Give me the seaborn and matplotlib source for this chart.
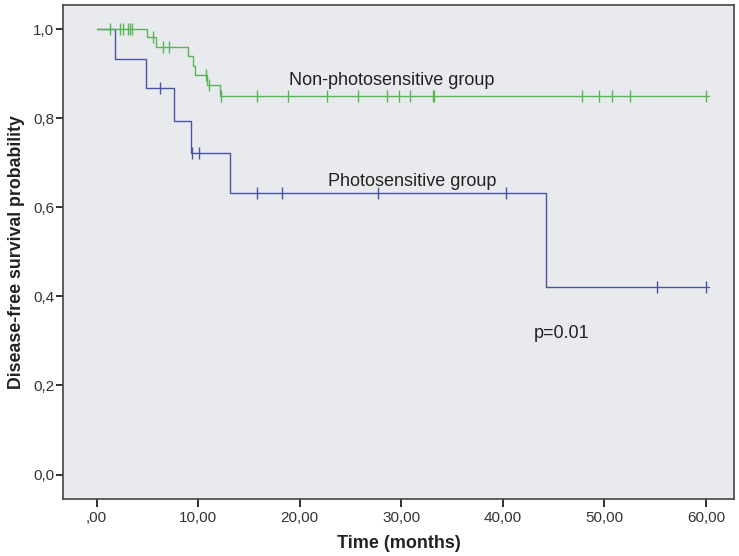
import numpy as np
import pandas as pd
import matplotlib
matplotlib.use("Agg")
import matplotlib.pyplot as plt
import seaborn as sns

# --- Kaplan-Meier steps ---
photo_times = [0, 1.8, 4.85, 7.65, 9.3, 13.1, 44.2, 60.3]
photo_surv = [1.0, 0.933, 0.867, 0.794, 0.722, 0.632, 0.422, 0.422]
photo_censor = [6.2, 9.35, 10.1, 15.8, 18.2, 27.7, 40.3, 55.2, 60.0]

nonphoto_times = [0, 4.96, 5.81, 9.0, 9.49, 9.72, 10.9, 12.1, 60.3]
nonphoto_surv = [1.0, 0.983, 0.96, 0.94, 0.918, 0.897, 0.875, 0.851, 0.851]
nonphoto_censor = [1.35, 2.3, 2.6, 3.1, 3.25, 3.5, 5.55, 6.5, 7.1, 10.8, 11.1,
                   12.2, 15.8, 18.8, 22.7, 25.7, 28.6, 29.8, 30.9, 33.1, 33.2,
                   47.8, 49.5, 50.7, 52.5, 60.0]

groups = ["Photosensitive group", "Non-photosensitive group"]
colors = {"Photosensitive group": "#4a55a2", "Non-photosensitive group": "#5ab45a"}

x_ticks = [0, 10, 20, 30, 40, 50, 60]
y_ticks = [0.0, 0.2, 0.4, 0.6, 0.8, 1.0]


def surv_at(times, surv, t):
    i = np.searchsorted(times, t, side="right") - 1
    return surv[i]


steps = pd.concat([
    pd.DataFrame({"time": photo_times, "surv": photo_surv, "group": groups[0]}),
    pd.DataFrame({"time": nonphoto_times, "surv": nonphoto_surv, "group": groups[1]}),
])
cens = pd.concat([
    pd.DataFrame({"time": photo_censor,
                  "surv": [surv_at(photo_times, photo_surv, t) for t in photo_censor],
                  "group": groups[0]}),
    pd.DataFrame({"time": nonphoto_censor,
                  "surv": [surv_at(nonphoto_times, nonphoto_surv, t) for t in nonphoto_censor],
                  "group": groups[1]}),
])

sns.set_style("white")
plt.rcParams["font.family"] = ["Liberation Sans", "DejaVu Sans"]

fig = plt.figure(figsize=(7.39, 5.56), dpi=100)
ax = fig.add_axes([0.0848, 0.1025, 0.909, 0.889])
ax.set_facecolor("#e9eaed")

for g in groups:
    d = steps[steps["group"] == g]
    sns.lineplot(data=d, x="time", y="surv", ax=ax, color=colors[g],
                 estimator=None, sort=False, drawstyle="steps-post",
                 linewidth=1.0, legend=False)
    c = cens[cens["group"] == g]
    sns.scatterplot(data=c, x="time", y="surv", ax=ax, color=colors[g],
                    marker="|", s=70, linewidth=1.0, legend=False)

ax.set_xlim(-3.35, 62.8)
ax.set_ylim(-0.055, 1.055)
ax.set_xticks(x_ticks)
ax.set_xticklabels([",00" if v == 0 else f"{v},00" for v in x_ticks])
ax.set_yticks(y_ticks)
ax.set_yticklabels([f"{v:.1f}".replace(".", ",") for v in y_ticks])

tick_font = ["Liberation Sans Narrow", "Liberation Sans"]
for lab in ax.get_xticklabels() + ax.get_yticklabels():
    lab.set_family(tick_font)
    lab.set_fontsize(11)
    lab.set_color("#333333")
ax.tick_params(axis="x", bottom=True, direction="out", length=5.5, width=1.3,
               pad=3, color="#222222")
ax.tick_params(axis="y", left=True, direction="out", length=5, width=1.3,
               pad=1, color="#222222")

for sp in ax.spines.values():
    sp.set_color("#444444")
    sp.set_linewidth(1.2)

ax.set_xlabel("Time (months)", fontsize=13, fontweight="bold", color="#222222")
ax.set_ylabel("Disease-free survival probability", fontsize=12.8, fontweight="bold",
              color="#222222")
ax.xaxis.set_label_coords(0.5, -0.091)
ax.xaxis.label.set_va("center")
ax.yaxis.set_label_coords(-0.0686, 0.5)
ax.yaxis.label.set_va("center")

ax.text(18.97, 0.884, "Non-photosensitive group", fontsize=13, va="center", color="#222222")
ax.text(22.8, 0.657, "Photosensitive group", fontsize=13, va="center", color="#222222")
ax.text(43.0, 0.3175, "p=0.01", fontsize=13, va="center", color="#222222")

fig.savefig("out.png", dpi=100, facecolor="white")
